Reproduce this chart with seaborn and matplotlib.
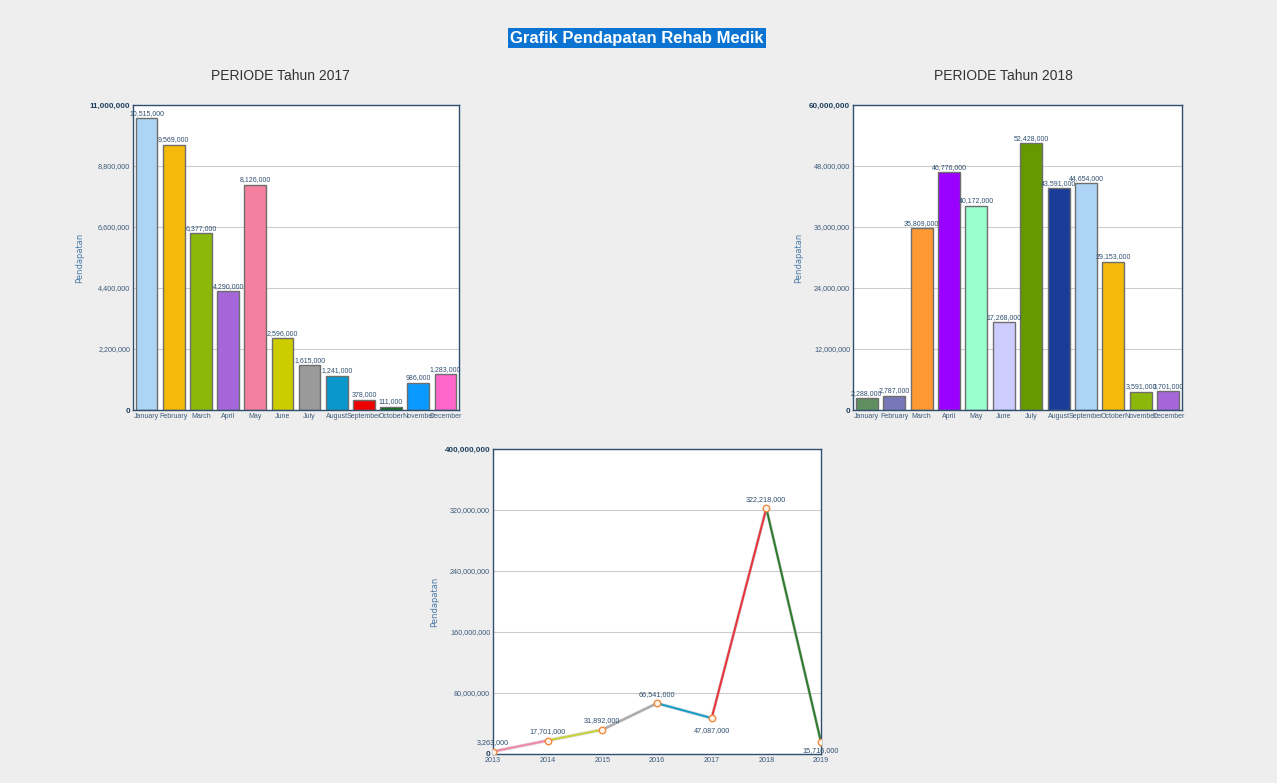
import matplotlib
matplotlib.use("Agg")
import matplotlib.pyplot as plt
import matplotlib.ticker as mticker
import seaborn as sns
import pandas as pd

months = ["January", "February", "March", "April", "May", "June", "July",
          "August", "September", "October", "November", "December"]
income_2017 = [10515000, 9569000, 6377000, 4290000, 8126000, 2596000, 1615000,
               1241000, 378000, 111000, 986000, 1283000]
income_2018 = [2288000, 2787000, 35809000, 46776000, 40172000, 17268000, 52428000,
               43591000, 44654000, 29153000, 3591000, 3701000]
years = [2013, 2014, 2015, 2016, 2017, 2018, 2019]
income_years = [3263000, 17701000, 31892000, 66541000, 47087000, 322218000, 15716000]

colors_2017 = ["#aed4f5", "#f5b90a", "#8cb80c", "#a466d9", "#f57f9e", "#cccc00",
               "#9a9a9a", "#0a98cc", "#ee0000", "#0a6a1a", "#0a99ff", "#ff66cc"]
colors_2018 = ["#5f8f5f", "#7878b8", "#ff9933", "#9900ff", "#99ffcc", "#ccccff",
               "#669900", "#1a3d9a", "#aed4f5", "#f5b90a", "#8cb80c", "#a466d9"]
seg_colors = ["#f08aa8", "#c8d23c", "#aaaaaa", "#1a9ec8", "#e8343c", "#2e7d2e"]

sns.set_theme(style="white")
plt.rcParams["font.family"] = ["Liberation Sans", "DejaVu Sans"]

W, H = 1277, 783
fig = plt.figure(figsize=(W / 100, H / 100), dpi=100, facecolor="#eeeeee")

TICK_C = "#3d5a7a"
FRAME_C = "#2f4f6f"


def style_axes(ax, ymax, step):
    ax.set_facecolor("white")
    for s in ax.spines.values():
        s.set_color(FRAME_C)
        s.set_linewidth(1.0)
    ax.set_ylim(0, ymax)
    ticks = [i * step for i in range(int(round(ymax / step)) + 1)]
    ax.set_yticks(ticks)
    ax.yaxis.set_major_formatter(mticker.FuncFormatter(lambda v, p: f"{v:,.0f}"))
    ax.grid(axis="y", color="#cccccc", linewidth=0.8)
    ax.grid(axis="x", visible=False)
    ax.set_axisbelow(True)
    ax.tick_params(axis="both", length=0, pad=2, labelsize=5.2, colors=TICK_C)
    labs = ax.get_yticklabels()
    for i, t in enumerate(labs):
        if i == 0 or i == len(labs) - 1:
            t.set_fontweight("bold")
            t.set_fontsize(5.8)
            t.set_color("#1f3f5f")
    ax.set_ylabel("Pendapatan", fontsize=6, color="#4a7aa8", labelpad=4,
                  family=["DejaVu Sans"])
    ax.set_xlabel("")


def bar_chart(rect, values, colors, ymax, step):
    ax = fig.add_axes(rect)
    df = pd.DataFrame({"month": months, "value": values})
    sns.barplot(data=df, x="month", y="value", hue="month", palette=colors,
                order=months, hue_order=months, legend=False, width=0.8,
                saturation=1, edgecolor="#6e6e6e", linewidth=1.0, ax=ax)
    ax.set_xlim(-0.5, len(months) - 0.5)
    style_axes(ax, ymax, step)
    ax.tick_params(axis="x", labelsize=5.0)
    for c in ax.containers:
        ax.bar_label(c, fmt="{:,.0f}", padding=1, fontsize=5, color="#2f4f6f")
    return ax


ax1 = bar_chart([133 / W, 1 - 410 / H, 326 / W, 305 / H], income_2017, colors_2017,
                11000000, 2200000)
ax2 = bar_chart([853 / W, 1 - 410 / H, 329 / W, 305 / H], income_2018, colors_2018,
                60000000, 12000000)

# line chart
ax3 = fig.add_axes([493 / W, 1 - 754 / H, 328 / W, 305 / H])
df_y = pd.DataFrame({"year": years, "value": income_years})
for i in range(len(years) - 1):
    seg = df_y.iloc[i:i + 2]
    sns.lineplot(data=seg, x="year", y="value", color="#bbbbbb", lw=2.4, alpha=0.55,
                 ax=ax3, legend=False)
    sns.lineplot(data=seg, x="year", y="value", color=seg_colors[i], lw=1.5,
                 ax=ax3, legend=False)
sns.scatterplot(data=df_y, x="year", y="value", marker="o", s=22,
                facecolor="#fff4ea", edgecolor="#f08a40", linewidth=1.0,
                zorder=5, ax=ax3, legend=False)
ax3.set_xlim(2013, 2019)
ax3.set_xticks(years)
style_axes(ax3, 400000000, 80000000)
offsets = [(0, 4), (0, 4), (0, 4), (0, 4), (0, -9), (0, 4), (0, -6)]
for x, y, (dx, dy) in zip(years, income_years, offsets):
    ax3.annotate(f"{y:,.0f}", (x, y), xytext=(dx, dy), textcoords="offset points",
                 ha="center", va="bottom" if dy > 0 else "center",
                 fontsize=5.2, color="#2f4f6f", zorder=6, annotation_clip=False)

# titles
fig.text(637 / W, 1 - 38 / H, "Grafik Pendapatan Rehab Medik", ha="center",
         va="center", fontsize=12, fontweight="bold", color="white",
         bbox=dict(boxstyle="square,pad=0.15", fc="#0b74d2", ec="none"))
fig.text(280 / W, 1 - 76 / H, "PERIODE Tahun 2017", ha="center", va="center",
         fontsize=10, color="#333333")
fig.text(1003 / W, 1 - 76 / H, "PERIODE Tahun 2018", ha="center", va="center",
         fontsize=10, color="#333333")

fig.savefig("out.png", dpi=100, facecolor=fig.get_facecolor())
